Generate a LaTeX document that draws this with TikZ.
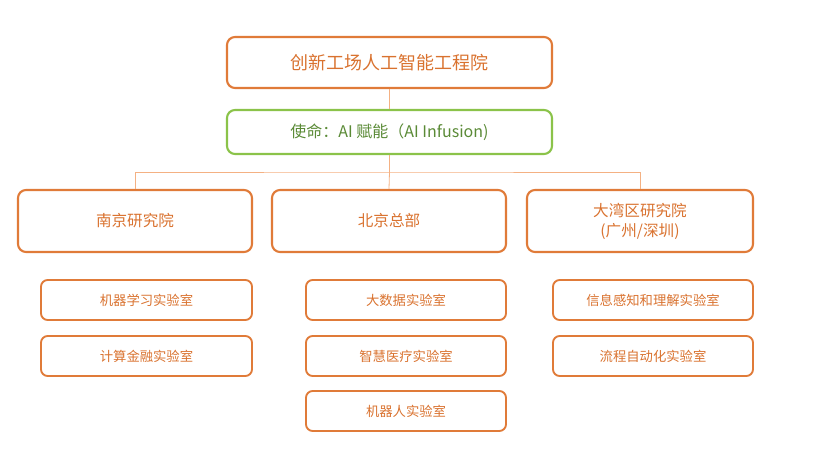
\documentclass[tikz,border=0pt]{standalone}
\usepackage{fontspec}
\setmainfont{Noto Sans CJK SC}
\definecolor{org}{HTML}{E07B39}
\definecolor{orgtxt}{HTML}{D9722F}
\definecolor{grn}{HTML}{8BC34A}
\definecolor{grntxt}{HTML}{5A8A36}
\definecolor{ln}{HTML}{F4B183}
\begin{document}
\begin{tikzpicture}[x=0.75pt,y=-0.75pt,
  box/.style={draw=org,line width=1.6pt,rounded corners=6pt,text=orgtxt,align=center,inner sep=0pt},
  lab/.style={draw=org,line width=1.4pt,rounded corners=5pt,text=orgtxt,align=center,inner sep=0pt,font=\fontsize{10}{12}\selectfont},
  conn/.style={draw=ln,line width=0.6pt}]
\useasboundingbox (0,0) rectangle (822,466);
\node[box,minimum width=325*0.75pt,minimum height=51*0.75pt,font=\fontsize{13.5}{16}\selectfont] (top) at (389.5,62.5) {创新工场人工智能工程院};
\node[box,draw=grn,text=grntxt,minimum width=325*0.75pt,minimum height=44*0.75pt,font=\fontsize{12}{14}\selectfont] (mis) at (389.5,132) {使命：AI 赋能（AI Infusion)};
\node[box,minimum width=234*0.75pt,minimum height=62*0.75pt,font=\fontsize{11.7}{15}\selectfont] (nj) at (135,221) {南京研究院};
\node[box,minimum width=234*0.75pt,minimum height=62*0.75pt,font=\fontsize{11.7}{15}\selectfont] (bj) at (389,221) {北京总部};
\node[box,minimum width=226*0.75pt,minimum height=62*0.75pt,font=\fontsize{11.7}{15}\selectfont] (gz) at (640,221) {大湾区研究院\\(广州/深圳)};
\coordinate (hj) at (389.5,172);
\draw[conn] (top.south) -- (mis.north);
\draw[conn] (mis.south) -- (hj);
\draw[conn] (nj.north) |- (hj) -| (gz.north);
\draw[conn] (hj) -- (bj.north);
\node[lab,minimum width=211*0.75pt,minimum height=40*0.75pt] (a1) at (146.5,300) {机器学习实验室};
\node[lab,minimum width=211*0.75pt,minimum height=40*0.75pt] (a2) at (146.5,356) {计算金融实验室};
\node[lab,minimum width=200*0.75pt,minimum height=40*0.75pt] (b1) at (406,300) {大数据实验室};
\node[lab,minimum width=200*0.75pt,minimum height=40*0.75pt] (b2) at (406,356) {智慧医疗实验室};
\node[lab,minimum width=200*0.75pt,minimum height=40*0.75pt] (b3) at (406,411) {机器人实验室};
\node[lab,minimum width=200*0.75pt,minimum height=40*0.75pt] (c1) at (653,300) {信息感知和理解实验室};
\node[lab,minimum width=200*0.75pt,minimum height=40*0.75pt] (c2) at (653,356) {流程自动化实验室};
\end{tikzpicture}
\end{document}
